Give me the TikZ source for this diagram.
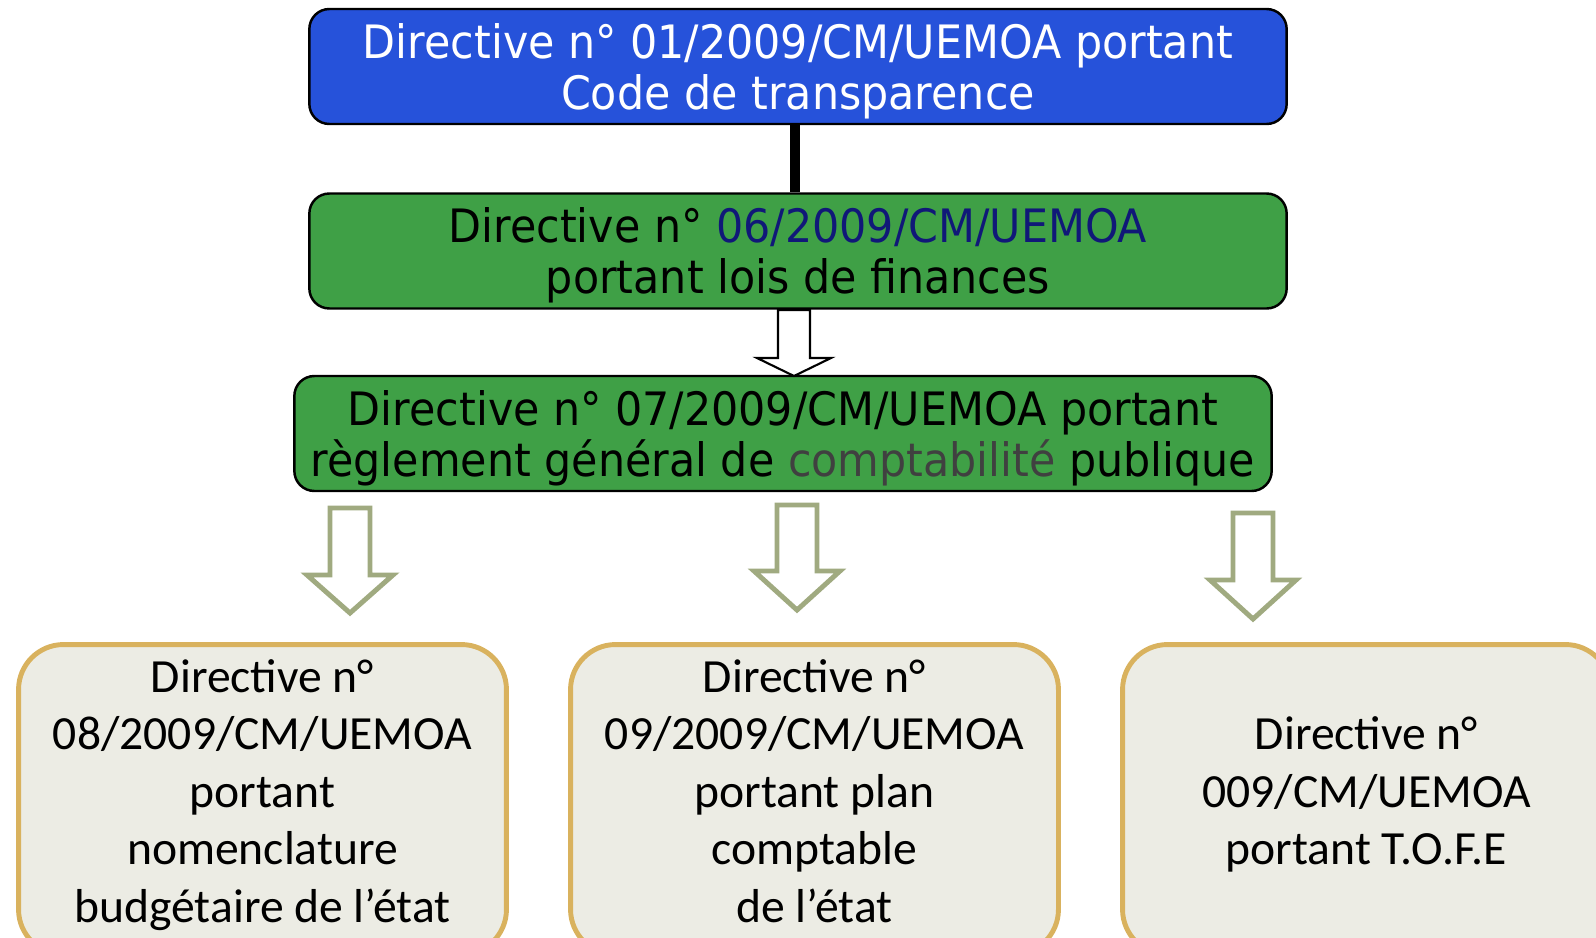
\documentclass[tikz,border=0pt]{standalone}
\usepackage{fontspec}
\setmainfont{Carlito}
\newfontfamily\dirfont[FakeStretch=0.93]{DejaVu Sans}
\usetikzlibrary{positioning}

\definecolor{dirblue}{RGB}{38,82,218}
\definecolor{dirgreen}{RGB}{63,160,70}
\definecolor{dirnavy}{RGB}{16,24,120}
\definecolor{dirgrey}{RGB}{64,64,64}
\definecolor{dirolive}{RGB}{160,170,128}
\definecolor{dirgold}{RGB}{217,178,94}
\definecolor{dirpaper}{RGB}{236,236,228}

\newcommand{\lift}{\rule{0pt}{25pt}}

\tikzset{
  topbox/.style={draw=black, line width=1.4pt, rounded corners=0.4cm,
    minimum width=19.55cm, minimum height=2.3cm, inner sep=0pt, align=center,
    font=\dirfont\fontsize{26.2}{29}\selectfont},
  lowbox/.style={draw=dirgold, line width=2.8pt, fill=dirpaper, rounded corners=0.9cm,
    minimum width=9.76cm, minimum height=6.2cm, align=center,
    font=\fontsize{27.1}{32.7}\selectfont},
  hollow/.style={draw=dirolive, line width=2.8pt, fill=white},
  plainhollow/.style={draw=black, line width=1.2pt, fill=white}
}

% hollow block arrow: x, top, head, tip, half shaft, half head, style
\newcommand{\blockdown}[7]{%
  \draw[#7] (#1-#5,#2) -- (#1+#5,#2) -- (#1+#5,#3) -- (#1+#6,#3) -- (#1,#4)
    -- (#1-#6,#3) -- (#1-#5,#3) -- cycle;}

\begin{document}
\begin{tikzpicture}[x=0.02cm, y=-0.02cm]
  \path[use as bounding box, clip] (0,0) rectangle (1596,937);

  % upper directives
  \node[topbox, fill=dirblue, text=white] (code) at (798,66.5)
    {\lift Directive n° 01/2009/CM/UEMOA portant\\Code de transparence};
  \node[topbox, fill=dirgreen] (lois) at (798,251)
    {\lift Directive n° {\color{dirnavy}06/2009/CM/UEMOA}\\portant lois de finances};
  \node[topbox, fill=dirgreen] (regle) at (783,433.5)
    {\lift Directive n° 07/2009/CM/UEMOA portant\\règlement général de {\color{dirgrey}comptabilité} publique};

  % links
  \draw[line width=6.2pt] ([xshift=-0.06cm]code.south) -- ([xshift=-0.06cm]lois.north);
  \blockdown{794}{310}{358}{376}{16}{37}{plainhollow}
  \blockdown{350}{508}{575}{613}{20}{43}{hollow}
  \blockdown{797}{505}{571}{610}{20}{43}{hollow}
  \blockdown{1253}{513}{580}{619}{20}{43}{hollow}

  % lower directives
  \node[lowbox] (nomen) at (262.5,799.5)
    {Directive n°\\08/2009/CM/UEMOA\\portant\\nomenclature\\budgétaire de l’état\strut};
  \node[lowbox] (plan) at (814.5,799.5)
    {Directive n°\\09/2009/CM/UEMOA\\portant plan\\comptable\\de l’état\strut};
  \node[lowbox] (tofe) at (1366.5,799.5)
    {Directive n°\\009/CM/UEMOA\\portant T.O.F.E\strut};
\end{tikzpicture}
\end{document}
